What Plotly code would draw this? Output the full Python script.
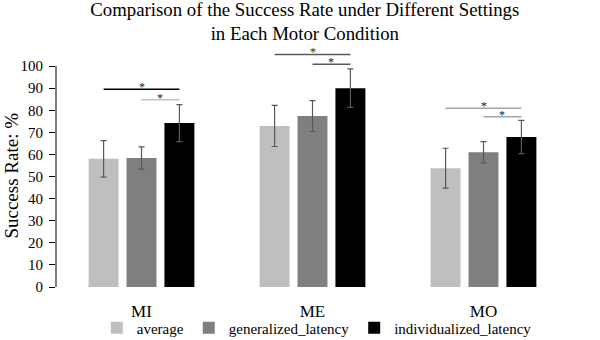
import plotly.graph_objects as go

categories = ["MI", "ME", "MO"]
series_names = ["average", "generalized_latency", "individualized_latency"]
series_colors = ["#bfbfbf", "#7f7f7f", "#000000"]
average = [58.0, 72.9, 53.8]
average_err = [8.3, 9.3, 9.0]
generalized = [58.4, 77.4, 61.0]
generalized_err = [5.0, 7.0, 4.8]
individualized = [74.2, 90.0, 67.9]
individualized_err = [8.4, 8.7, 7.5]
y_ticks = [0, 10, 20, 30, 40, 50, 60, 70, 80, 90, 100]

# significance brackets: category index, from bar, to bar, level, colour
sig_cat = [0, 0, 1, 1, 2, 2]
sig_from = [0, 1, 0, 1, 0, 1]
sig_to = [2, 2, 2, 2, 2, 2]
sig_level = [89.5, 84.8, 105.3, 100.8, 80.9, 77.1]
sig_color = ["#000000", "#c0c0c0", "#595959", "#595959", "#a6a6a6", "#a6a6a6"]

values = [average, generalized, individualized]
errors = [average_err, generalized_err, individualized_err]

FONT = "Liberation Serif, Times New Roman, serif"
bargap = 0.335
bargroupgap = 0.21

fig = go.Figure()
for name, col, v, e in zip(series_names, series_colors, values, errors):
    fig.add_trace(go.Bar(
        x=categories, y=v, name=name, marker=dict(color=col, line=dict(width=0)),
        error_y=dict(type="data", array=e, visible=True, color="#595959",
                     thickness=1.2, width=3),
    ))

slot = (1 - bargap) / 3
for c, a, b, lvl, col in zip(sig_cat, sig_from, sig_to, sig_level, sig_color):
    x0 = c + (a - 1) * slot
    x1 = c + (b - 1) * slot
    fig.add_shape(type="line", xref="x", yref="y", x0=x0, x1=x1, y0=lvl, y1=lvl,
                  line=dict(color=col, width=1.5))
    fig.add_annotation(x=(x0 + x1) / 2, y=lvl, xref="x", yref="y", text="*",
                       showarrow=False, yanchor="bottom", yshift=-6, borderpad=0,
                       font=dict(family=FONT, size=12, color="#222222"))

# y axis line only from 0 to 100
fig.add_shape(type="line", xref="paper", yref="y", x0=0, x1=0, y0=0, y1=100,
              line=dict(color="#000000", width=1))

# y axis title
fig.add_annotation(text="Success Rate: %", xref="paper", yref="paper",
                   x=-0.087, y=0.46, xanchor="center", yanchor="middle",
                   textangle=-90, showarrow=False,
                   font=dict(family=FONT, size=19, color="#000000"))

fig.update_layout(
    width=600, height=340,
    paper_bgcolor="white", plot_bgcolor="white",
    margin=dict(l=56, r=31, t=44, b=53, autoexpand=False),
    barmode="group", bargap=bargap, bargroupgap=bargroupgap,
    title=dict(text="Comparison of the Success Rate under Different Settings<br>in Each Motor Condition",
               x=0.508, xanchor="center", xref="container", yref="container",
               y=0.953, yanchor="top",
               font=dict(family=FONT, size=18.8, color="#000000")),
    font=dict(family=FONT, color="#000000"),
    legend=dict(orientation="h", x=0.528, xanchor="center", xref="container",
                y=0.035, yanchor="middle", yref="container",
                bgcolor="rgba(0,0,0,0)",
                font=dict(family=FONT, size=15, color="#000000"),
                itemwidth=30, tracegroupgap=0),
    showlegend=True,
)
fig.update_xaxes(showline=False, showgrid=False, ticks="", zeroline=False, automargin=False,
                 tickfont=dict(family=FONT, size=17, color="#000000"),
                 ticklabelstandoff=12)
fig.update_yaxes(range=[0, 110], tickvals=y_ticks, showline=False, showgrid=False,
                 zeroline=False, ticks="outside", ticklen=6, tickcolor="#000000",
                 automargin=False, ticklabelstandoff=3,
                 tickfont=dict(family=FONT, size=15, color="#000000"))

fig.write_html("out.html", config={"displayModeBar": False},
               post_script="document.body.style.margin='0';")
